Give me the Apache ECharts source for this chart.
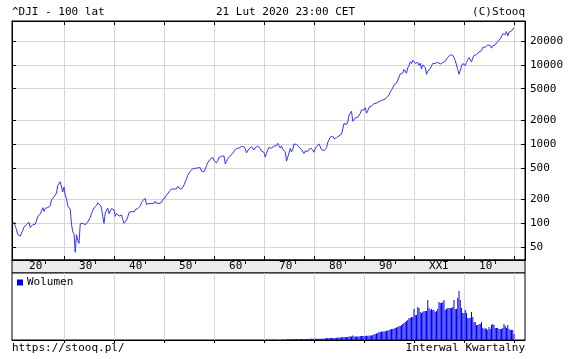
<!DOCTYPE html>
<html>
<head>
<meta charset="utf-8">
<script src="https://cdn.jsdelivr.net/npm/echarts@6/dist/echarts.min.js"></script>
<style>
html,body{margin:0;padding:0;background:#fff;}
#chart{width:572px;height:359px;}
</style>
</head>
<body>
<div id="chart"></div>
<script>
// ---- data (quarterly closes, ^DJI, starting 1920 Q1) ----
const START_YEAR = 1920;
const DJI_CLOSE = [
104.2,90.8,82.9,72.0, 75.8,68.5,71.1,81.1, 88.5,92.9,96.6,98.7, 102.6,87.9,87.9,95.5, 92.7,96.9,101.9,120.5,
115.9,131.0,143.2,156.7, 140.5,154.5,158.2,157.2, 160.1,166.2,197.6,202.4, 214.5,210.4,239.4,300.0, 308.5,333.8,343.5,248.5,
286.1,226.3,204.9,164.6, 172.4,150.2,96.6,77.9, 73.3,42.8,71.6,59.9, 55.4,98.1,94.5,99.9, 101.0,95.3,92.6,104.0,
100.8,118.2,131.9,144.1, 156.3,160.2,167.8,179.9, 186.4,169.3,154.6,121.0, 99.0,133.9,141.5,154.8, 131.8,130.6,152.5,150.2,
147.5,121.9,132.6,131.1, 122.7,123.1,126.8,111.0, 99.5,103.3,109.1,119.4, 136.6,143.4,140.1,135.9, 138.8,148.4,146.7,152.3,
154.1,164.9,181.7,192.9, 199.6,205.6,172.4,177.2, 177.2,177.3,177.5,181.2, 177.2,189.5,178.3,177.3, 177.1,167.4,182.5,200.1,
206.1,209.1,226.4,235.4, 248.0,242.6,271.2,269.2, 269.5,274.3,270.6,291.9, 279.9,268.3,264.0,280.9, 303.5,333.5,361.0,404.4,
409.7,451.4,466.6,488.4, 511.8,492.8,475.3,499.5, 474.8,503.3,456.3,435.7, 446.8,478.2,532.1,583.7, 602.0,643.6,632.0,679.4,
616.6,640.6,580.1,615.9, 676.6,684.0,701.2,731.1, 706.9,561.3,579.0,652.1, 682.5,706.9,743.2,763.0, 813.3,831.5,875.4,874.1,
889.1,868.0,930.6,969.3, 924.8,870.1,774.2,785.7, 866.0,860.3,926.7,905.1, 840.7,897.8,935.8,943.8, 935.5,873.2,813.1,800.4,
785.6,683.5,760.7,838.9, 904.4,891.1,887.2,890.2, 940.7,929.0,953.3,1020.0, 951.0,891.7,947.1,850.9, 846.7,802.4,607.9,616.2,
768.2,879.0,793.9,852.4, 999.5,1002.8,990.2,1004.7, 919.1,916.3,847.1,831.2, 757.4,819.0,865.8,805.0, 862.2,842.0,878.6,838.7,
785.8,867.9,932.4,964.0, 1003.9,976.9,850.0,875.0, 822.8,811.9,896.3,1046.5, 1130.0,1222.0,1233.1,1258.6, 1164.9,1132.4,1206.7,1211.6,
1266.8,1335.5,1328.6,1546.7, 1818.6,1892.7,1767.6,1896.0, 2304.7,2418.5,2596.3,1938.8, 1988.1,2141.7,2112.9,2168.6, 2293.6,2440.1,2692.8,2753.2,
2707.2,2880.7,2452.5,2633.7, 2913.9,2906.8,3016.8,3168.8, 3235.5,3318.5,3271.7,3301.1, 3435.1,3516.1,3555.1,3754.1, 3636.0,3625.0,3843.2,3834.4,
4157.7,4556.1,4789.1,5117.1, 5587.1,5654.6,5882.2,6448.3, 6583.5,7672.8,7945.3,7908.3, 8799.8,8952.0,7842.6,9181.4, 9786.2,10970.8,10337.0,11497.1,
10921.9,10447.9,10650.9,10786.9, 9878.8,10502.4,8847.6,10021.5, 10403.9,9243.3,7591.9,8341.6, 7992.1,8985.4,9275.1,10453.9, 10357.7,10435.5,10080.3,10783.0,
10503.8,10275.0,10568.7,10717.5, 11109.3,11150.2,11679.1,12463.2, 12354.4,13408.6,13895.6,13264.8, 12262.9,11350.0,10850.7,8776.4, 7608.9,8447.0,9712.3,10428.1,
10856.6,9774.0,10788.1,11577.5, 12319.7,12414.3,10913.4,12217.6, 13212.0,12880.1,13437.1,13104.1, 14578.5,14909.6,15129.7,16576.7, 16457.7,16826.6,17042.9,17823.1,
17776.1,17619.5,16284.7,17425.0, 17685.1,17930.0,18308.2,19762.6, 20663.2,21349.6,22405.1,24719.2, 24103.1,24271.4,26458.3,23327.5, 25928.7,26600.0,26916.8,28538.4,
28992.4
];
// volume (relative units), quarterly from 1971 Q1
const VOL_START = 1971;
const VOLUME = [
0.8,0,0,0, 0.8,0,0,0, 0,0,0,0.8, 0,0,0.8,0.8, 0.8,0.8,0.8,0.8,
1,1,1,1, 1,1,1,1, 1,1,1,1, 1.2,1.2,1.2,1.2, 1.2,1.2,1.2,1.2,
1.2,1.2,1.2,1.2, 1.5,1.5,2,2, 2,2,2,2, 2,2,2,2.5, 2.5,2.5,2.5,3,
3,3,3,3, 3.5,3.5,3.5,4.5, 3.5,3.5,3.5,3.5, 3.5,4,4,4, 4,4,4.5,4,
4.5,4.5,4.5,5, 5.5,6,6.5,7, 8,8,8.5,8.5, 8.5,9,9,9.5, 10,10.5,11,11,
11.5,12,12.5,13, 14,14,15,16, 17,18,19,20, 22,22,23,23, 31,25,25,33,
32,28,27,28, 29,29,29,40, 32,30,31,30, 30,28,29,31, 38,37,37,38,
40,30,31,32, 32,32,32,33, 40,31,31,42, 49,40,32,27, 27,30,27,22,
22,22,28,23, 18,18,15,15, 16,16,18,12, 11,12,11,10, 13,11,15,16,
15,12,12,12, 11,11,11,12, 16,14,12,15, 11,10,10,10, 6
];
const X_TICKS = [1930,1940,1950,1960,1970,1980,1990,2000,2010,2020];
const X_LABEL_POS = [1925,1935,1945,1955,1965,1975,1985,1995,2005,2015];
const X_LABELS = ["20'","30'","40'","50'","60'","70'","80'","90'","XXI","10'"];
const Y_TICKS = [50,100,200,500,1000,2000,5000,10000,20000];

// ---- chart ----
const FONT = 'DejaVu Sans Mono';
const XMIN = 1919.6, XMAX = 2022.2, YMIN = 34.2, YMAX = 35900;
const GRIDC = '#d6d6d6';
const txt = {fontFamily: FONT, fontSize: 11, fontWeight: 'normal', color: '#000'};

const priceData = DJI_CLOSE.map((v, i) => [START_YEAR + i / 4, v]);
const volData = VOLUME.map((v, i) => [VOL_START + i / 4, v]);

const chart = echarts.init(document.getElementById('chart'), null, {renderer: 'canvas'});
chart.setOption({
  animation: false,
  backgroundColor: '#fff',
  textStyle: {fontFamily: FONT},
  title: [
    {text: '^DJI - 100 lat', left: 12, top: 7, padding: 0, textStyle: txt},
    {text: '21 Lut 2020 23:00 CET', left: 216, top: 7, padding: 0, textStyle: txt},
    {text: '(C)Stooq', right: 47, top: 7, padding: 0, textStyle: txt},
    {text: 'https://stooq.pl/', left: 12, top: 343, padding: 0, textStyle: txt},
    {text: 'Interwal Kwartalny', right: 47, top: 343, padding: 0, textStyle: txt}
  ],
  legend: {
    data: ['Wolumen'], left: 17, top: 277, padding: 0, icon: 'rect',
    itemWidth: 6, itemHeight: 6, selectedMode: false,
    textStyle: {fontFamily: FONT, fontSize: 11, color: '#000', padding: [0,0,0,-1]}
  },
  grid: [
    {left: 12, top: 21, width: 513, height: 239, show: true, borderColor: '#000', borderWidth: 1, backgroundColor: '#fff'},
    {left: 12, top: 260, width: 513, height: 13, show: true, borderColor: '#000', borderWidth: 1, backgroundColor: '#ebebeb'},
    {left: 12, top: 273, width: 513, height: 67, show: true, borderColor: '#000', borderWidth: 1, backgroundColor: '#fff'}
  ],
  xAxis: [
    {gridIndex: 0, type: 'value', min: XMIN, max: XMAX, position: 'bottom',
     axisLine: {show: true, lineStyle: {color: '#000'}},
     axisTick: {show: true, inside: true, length: 4, customValues: X_TICKS, lineStyle: {color: '#000'}},
     axisLabel: {show: true, customValues: X_LABEL_POS, margin: 1, fontFamily: FONT, fontSize: 11, color: '#000',
       formatter: v => X_LABELS[X_LABEL_POS.indexOf(Math.round(v))] || ''},
     splitLine: {show: true, lineStyle: {color: GRIDC, width: 1}}},
    {gridIndex: 0, type: 'value', min: XMIN, max: XMAX, position: 'top',
     axisLine: {show: true, lineStyle: {color: '#000'}},
     axisTick: {show: true, inside: true, length: 4, customValues: X_TICKS, lineStyle: {color: '#000'}},
     axisLabel: {show: false}, splitLine: {show: false}},
    {gridIndex: 1, type: 'value', min: XMIN, max: XMAX, show: false},
    {gridIndex: 2, type: 'value', min: XMIN, max: XMAX, position: 'top',
     axisLine: {show: true, lineStyle: {color: '#000'}},
     axisTick: {show: true, inside: true, length: 3, customValues: X_TICKS, lineStyle: {color: '#000'}},
     axisLabel: {show: false},
     splitLine: {show: true, lineStyle: {color: GRIDC, width: 1}}}
  ],
  yAxis: [
    {gridIndex: 0, type: 'log', logBase: 10, min: YMIN, max: YMAX, position: 'right',
     axisLine: {show: true, lineStyle: {color: '#000'}},
     axisTick: {show: true, inside: true, length: 4, customValues: Y_TICKS, lineStyle: {color: '#000'}},
     axisLabel: {show: true, customValues: Y_TICKS, margin: 5, fontFamily: FONT, fontSize: 11, color: '#000',
       formatter: v => String(Math.round(v))},
     splitLine: {show: true, lineStyle: {color: GRIDC, width: 1}}},
    {gridIndex: 0, type: 'log', logBase: 10, min: YMIN, max: YMAX, position: 'left',
     axisLine: {show: true, lineStyle: {color: '#000'}},
     axisTick: {show: true, inside: true, length: 4, customValues: Y_TICKS, lineStyle: {color: '#000'}},
     axisLabel: {show: false}, splitLine: {show: false}},
    {gridIndex: 1, type: 'value', min: 0, max: 1, show: false},
    {gridIndex: 2, type: 'value', min: 0, max: 67, show: false}
  ],
  series: [
    {name: '^DJI', type: 'line', xAxisIndex: 0, yAxisIndex: 0, data: priceData,
     showSymbol: false, symbol: 'none', lineStyle: {color: '#3434ff', width: 1}, itemStyle: {color: '#3434ff'}},
    {name: 'Wolumen', type: 'bar', xAxisIndex: 3, yAxisIndex: 3, data: volData,
     barWidth: 1, itemStyle: {color: '#0000ff'}}
  ]
});
</script>
</body>
</html>
